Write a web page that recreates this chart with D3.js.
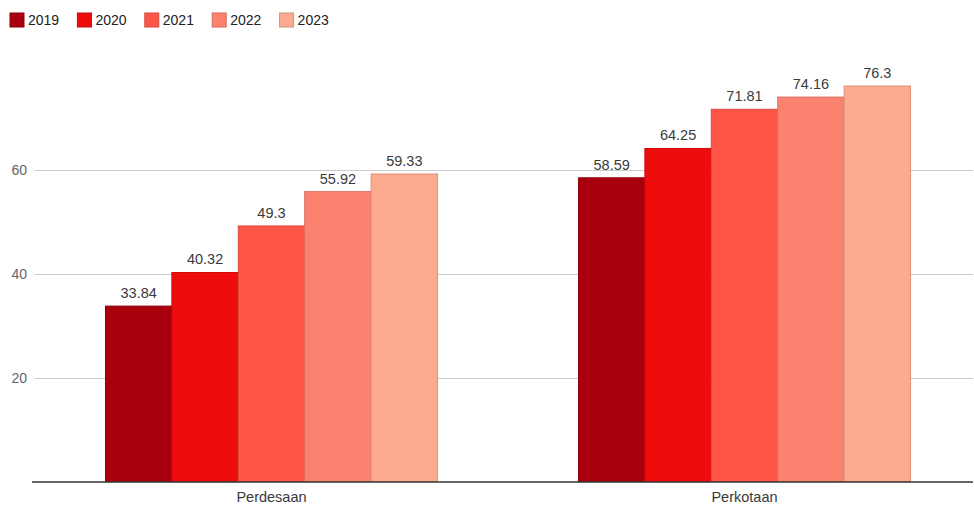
<!DOCTYPE html>
<html>
<head>
<meta charset="utf-8">
<script src="https://cdn.jsdelivr.net/npm/d3@7"></script>
<style>
  body { margin: 0; background: #fff; }
  svg { display: block; font-family: "Liberation Sans", Arial, sans-serif; }
</style>
</head>
<body>
<div id="chart"></div>
<script>
// categories and series
const categories = ['Perdesaan', 'Perkotaan'];
const years = ['2019', '2020', '2021', '2022', '2023'];
const values2019 = [33.84, 58.59];
const values2020 = [40.32, 64.25];
const values2021 = [49.3, 71.81];
const values2022 = [55.92, 74.16];
const values2023 = [59.33, 76.3];
const yTicks = [20, 40, 60];

const series = [values2019, values2020, values2021, values2022, values2023];
const colours = ['#a8000c', '#ee0c0c', '#fd5646', '#fc8270', '#fdab90'];

const width = 974;
const height = 505;
const margin = { top: 72, right: -7, bottom: 23, left: 35 };

const svg = d3.select('#chart')
  .append('svg')
  .attr('width', width)
  .attr('height', height);

// x scale for each category, then one for the years inside it
const x0 = d3.scaleBand()
  .domain(categories)
  .range([margin.left, width - margin.right])
  .paddingInner(0.298)
  .paddingOuter(0.149);

const x1 = d3.scaleBand()
  .domain(years)
  .range([0, x0.bandwidth()])
  .padding(0);

const y = d3.scaleLinear()
  .domain([0, 79])
  .range([height - margin.bottom - 0.5, margin.top]);

const colour = d3.scaleOrdinal().domain(years).range(colours);

// gridlines
svg.append('g')
  .selectAll('line')
  .data(yTicks)
  .join('line')
  .attr('x1', margin.left)
  .attr('x2', 973)
  .attr('y1', d => Math.round(y(d)) + 0.5)
  .attr('y2', d => Math.round(y(d)) + 0.5)
  .attr('stroke', '#cccccc')
  .attr('stroke-width', 1);

// y tick labels
svg.append('g')
  .selectAll('text')
  .data(yTicks)
  .join('text')
  .attr('x', 27)
  .attr('y', d => y(d))
  .attr('dy', '0.35em')
  .attr('text-anchor', 'end')
  .attr('font-size', 14)
  .attr('fill', '#666')
  .text(d => d);

// bars, grouped by category
const groups = svg.append('g')
  .selectAll('g')
  .data(categories)
  .join('g')
  .attr('transform', d => `translate(${x0(d)},0)`);

const cells = groups.selectAll('g')
  .data((c, ci) => years.map((yr, si) => ({ year: yr, value: series[si][ci] })))
  .join('g');

cells.append('rect')
  .attr('x', d => x1(d.year))
  .attr('y', d => y(d.value))
  .attr('width', x1.bandwidth())
  .attr('height', d => y(0) - y(d.value))
  .attr('fill', d => colour(d.year))
  .attr('stroke', d => d3.color(colour(d.year)).darker(0.4))
  .attr('stroke-width', 1);

cells.append('text')
  .attr('x', d => x1(d.year) + x1.bandwidth() / 2)
  .attr('y', d => y(d.value) - 8)
  .attr('text-anchor', 'middle')
  .attr('font-size', 14.5)
  .attr('fill', '#3a3a3a')
  .text(d => d.value);

// baseline
svg.append('line')
  .attr('x1', 32)
  .attr('x2', 973)
  .attr('y1', y(0) + 0.5)
  .attr('y2', y(0) + 0.5)
  .attr('stroke', '#333')
  .attr('stroke-width', 1.5);

// category labels
svg.append('g')
  .selectAll('text')
  .data(categories)
  .join('text')
  .attr('x', d => x0(d) + x0.bandwidth() / 2)
  .attr('y', 497)
  .attr('dy', '0.35em')
  .attr('text-anchor', 'middle')
  .attr('font-size', 14.5)
  .attr('fill', '#3a3a3a')
  .text(d => d);

// legend
const legend = svg.append('g')
  .selectAll('g')
  .data(years)
  .join('g')
  .attr('transform', (d, i) => `translate(${10 + i * 67.4},13)`);

legend.append('rect')
  .attr('width', 14)
  .attr('height', 14)
  .attr('fill', d => colour(d))
  .attr('stroke', d => d3.color(colour(d)).darker(0.5))
  .attr('stroke-width', 1);

legend.append('text')
  .attr('x', 18)
  .attr('y', 7)
  .attr('dy', '0.35em')
  .attr('font-size', 14)
  .attr('fill', '#222')
  .text(d => d);
</script>
</body>
</html>
